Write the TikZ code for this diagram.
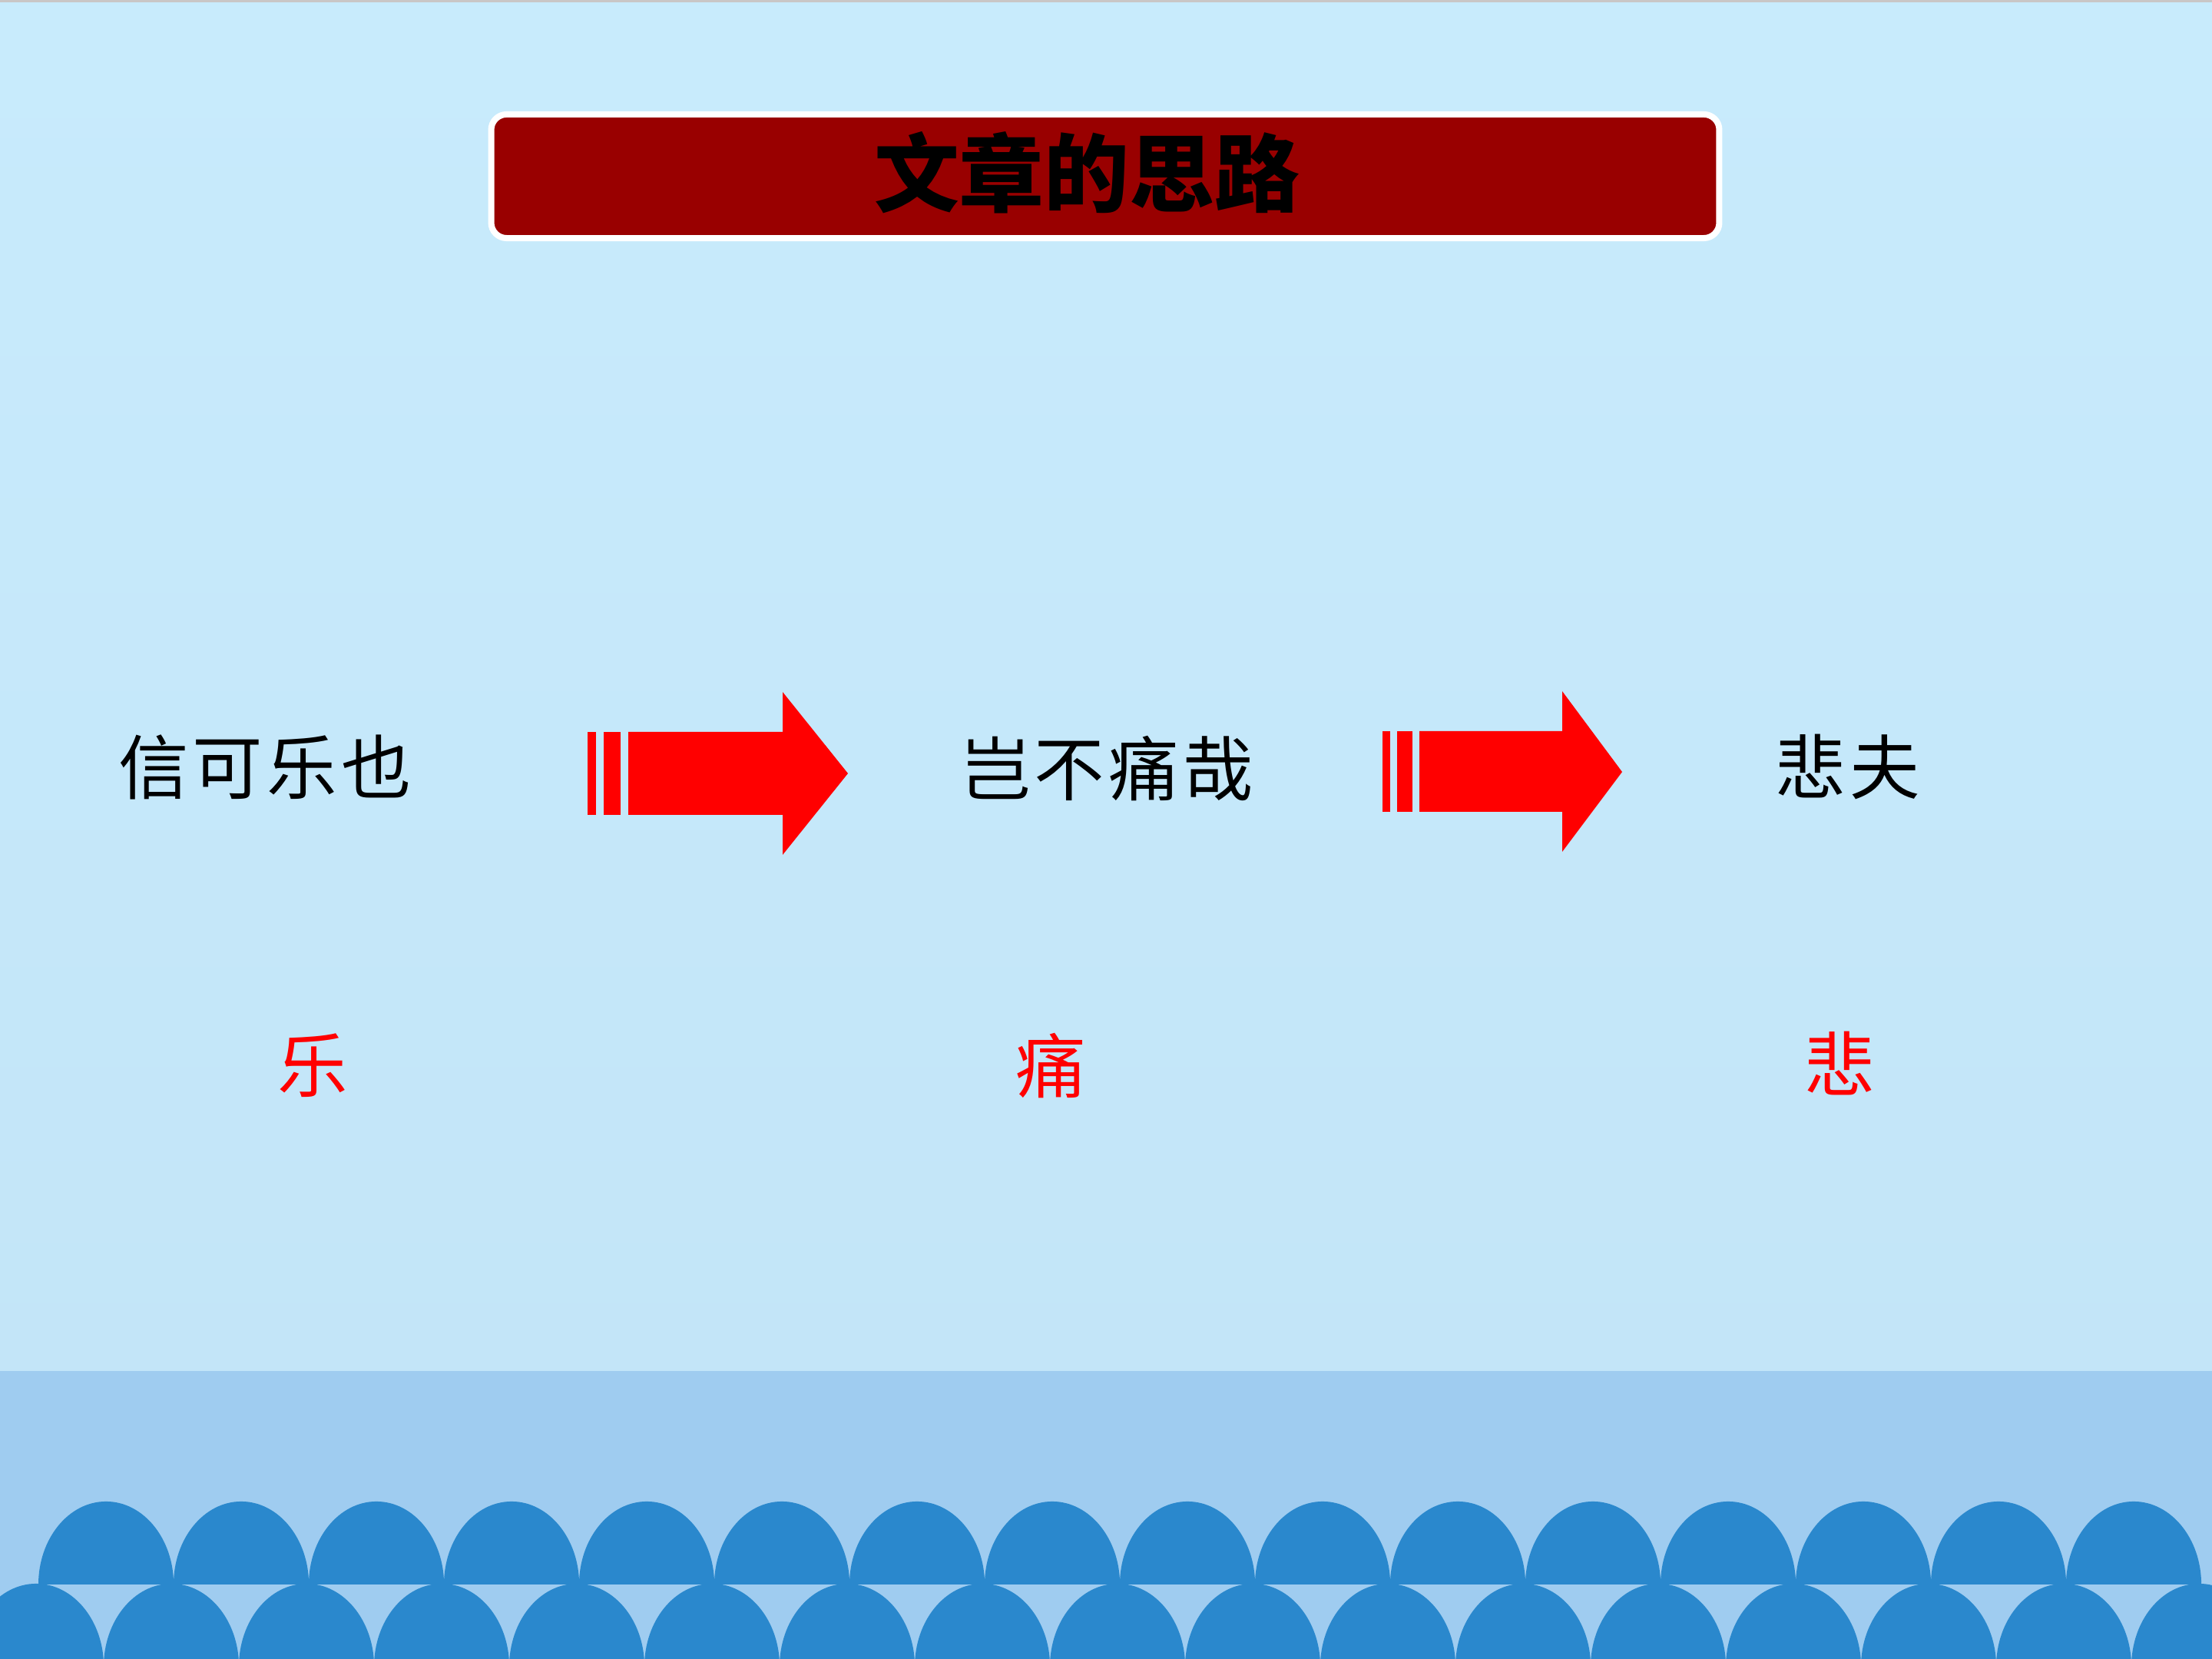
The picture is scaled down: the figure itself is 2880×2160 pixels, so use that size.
\documentclass[tikz,border=0pt]{standalone}
\usepackage{fontspec}
\newfontfamily\cjk{Noto Sans CJK SC}
\definecolor{bgtop}{HTML}{C8EBFC}
\definecolor{bgbot}{HTML}{C2E4F7}
\definecolor{band}{HTML}{9FCCF0}
\definecolor{wave}{HTML}{2A88CD}
\definecolor{titlered}{HTML}{990000}
\definecolor{topline}{HTML}{C9C6C6}
\tikzset{
  titlebox/.style={draw=white, line width=0.08cm, fill=titlered, rounded corners=0.2cm,
    minimum width=15.98cm, minimum height=1.61cm, inner sep=0pt},
  titletext/.style={inner sep=0pt, font=\cjk\bfseries\fontsize{31.5}{36}\selectfont, text=black},
  phrase/.style={inner sep=0pt, font=\cjk\fontsize{26}{30}\selectfont, text=black},
  keyword/.style={inner sep=0pt, font=\cjk\fontsize{26}{30}\selectfont, text=red},
  arrowfill/.style={fill=red},
  wavefill/.style={fill=wave}
}
\begin{document}
\begin{tikzpicture}[x=0.01cm,y=0.01cm]
\useasboundingbox (0,0) rectangle (2880,2160);
\clip (0,0) rectangle (2880,2160);
% background
\shade[top color=bgtop, bottom color=bgbot] (0,0) rectangle (2880,2160);
\fill[topline] (0,2157) rectangle (2880,2160);
% lower band
\fill[band] (0,0) rectangle (2880,375);
% waves: top row
\foreach \k in {0,...,15}{
  \fill[wavefill] ({50+176*\k},97) arc[start angle=180,end angle=0,x radius=0.88cm,y radius=1.08cm] -- cycle;
}
% waves: bottom row
\foreach \k in {0,...,16}{
  \fill[wavefill] ({-41+176*\k},-10) arc[start angle=180,end angle=0,x radius=0.88cm,y radius=1.08cm] -- cycle;
}
% title
\node[titlebox] (titlebox) at (1439,1930.5) {};
\node[titletext] (title) at (1415,1935) {文章的思路};
% phrases
\node[phrase] (p1) at (345,1161) {信\kern1.5pt可\kern1.5pt乐\kern1.5pt也};
\node[phrase] (p2) at (1441,1160) {岂\kern1.5pt不\kern1.5pt痛\kern1.5pt哉};
\node[phrase] (p3) at (2406,1162) {悲\kern1.5pt夫};
% keywords
\node[keyword] (k1) at (407,773) {乐};
\node[keyword] (k2) at (1368,773) {痛};
\node[keyword] (k3) at (2395,775) {悲};
% arrow 1
\fill[arrowfill] (765,1207) rectangle (776,1099);
\fill[arrowfill] (786,1207) rectangle (808,1099);
\fill[arrowfill] (818,1207) -- (1019,1207) -- (1019,1259) -- (1104,1153) -- (1019,1047) -- (1019,1099) -- (818,1099) -- cycle;
% arrow 2
\fill[arrowfill] (1800,1208) rectangle (1810,1103);
\fill[arrowfill] (1819,1208) rectangle (1839,1103);
\fill[arrowfill] (1848,1208) -- (2034,1208) -- (2034,1260) -- (2112,1155) -- (2034,1051) -- (2034,1103) -- (1848,1103) -- cycle;
\end{tikzpicture}
\end{document}
